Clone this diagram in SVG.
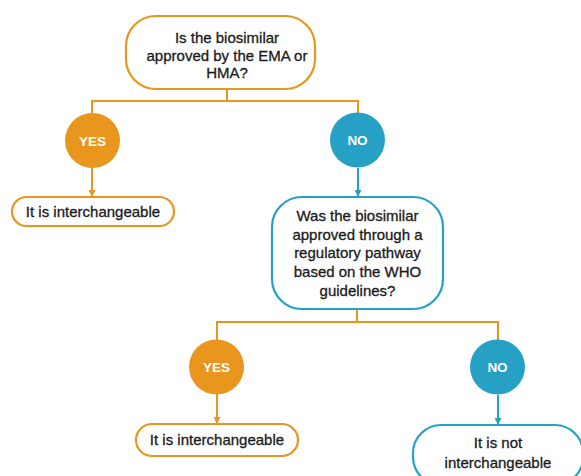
<svg xmlns="http://www.w3.org/2000/svg" width="581" height="476" viewBox="0 0 581 476">
<style>
.bg{fill:#ffffff}
.o{stroke:#E8961D;fill:none;stroke-width:2}
.b{stroke:#27A0C6;fill:none;stroke-width:2}
.box{fill:#ffffff;stroke-width:2.2}
.bo{stroke:#E8961D}
.bb{stroke:#27A0C6}
.t{font-family:"Liberation Sans",Arial,sans-serif;font-size:15px;fill:#1a1a1a;stroke:#1a1a1a;stroke-width:0.3;text-anchor:middle}
.c{font-family:"Liberation Sans",Arial,sans-serif;font-size:13.5px;font-weight:bold;fill:#ffffff;text-anchor:middle}
.co{fill:#E8961D}
.cb{fill:#27A0C6}
</style>
<defs>
<marker id="ao" markerUnits="userSpaceOnUse" markerWidth="8" markerHeight="7" refX="7" refY="3.5" orient="auto"><path d="M0,0 L7,3.5 L0,7 Z" fill="#E8961D"/></marker>
<marker id="ab" markerUnits="userSpaceOnUse" markerWidth="8" markerHeight="7" refX="7" refY="3.5" orient="auto"><path d="M0,0 L7,3.5 L0,7 Z" fill="#27A0C6"/></marker>
</defs>
<rect class="bg" x="0" y="0" width="581" height="476"/>
<g id="connectors">
<path class="o" d="M227,89 V101 M92,101 H359 M92,100 V113 M358,100 V113"/>
<path class="o" d="M92,168 V197" marker-end="url(#ao)"/>
<path class="b" d="M358,168 V197" marker-end="url(#ab)"/>
<path class="o" d="M357,309 V322 M217,322 H498 M217,321 V340 M498,321 V342"/>
<path class="o" d="M217,394 V424" marker-end="url(#ao)"/>
<path class="b" d="M498,395 V425" marker-end="url(#ab)"/>
</g>
<g id="q1">
<rect class="box bo" x="126" y="16" width="189" height="73" rx="30"/>
<text class="t" x="227" y="43">Is the biosimilar</text>
<text class="t" x="227" y="60.5">approved by the EMA or</text>
<text class="t" x="227" y="78">HMA?</text>
</g>
<g id="yes1">
<circle class="co" cx="92.5" cy="140.5" r="27.5"/>
<text class="c" x="92.5" y="145.5">YES</text>
</g>
<g id="no1">
<circle class="cb" cx="357.5" cy="140" r="27.5"/>
<text class="c" x="357.5" y="145">NO</text>
</g>
<g id="r1">
<rect class="box bo" x="12" y="197" width="162" height="29" rx="14.5"/>
<text class="t" x="93" y="217">It is interchangeable</text>
</g>
<g id="q2">
<rect class="box bb" x="272" y="197" width="171" height="112" rx="30"/>
<text class="t" x="357.5" y="221">Was the biosimilar</text>
<text class="t" x="357.5" y="239.5">approved through a</text>
<text class="t" x="357.5" y="258">regulatory pathway</text>
<text class="t" x="357.5" y="277">based on the WHO</text>
<text class="t" x="357.5" y="296">guidelines?</text>
</g>
<g id="yes2">
<circle class="co" cx="216.5" cy="367" r="27.5"/>
<text class="c" x="216.5" y="372">YES</text>
</g>
<g id="no2">
<circle class="cb" cx="497.5" cy="367" r="27.5"/>
<text class="c" x="497.5" y="372">NO</text>
</g>
<g id="r2">
<rect class="box bo" x="136" y="424" width="162" height="32" rx="16"/>
<text class="t" x="217" y="445">It is interchangeable</text>
</g>
<g id="r3">
<rect class="box bb" x="413" y="425" width="170" height="60" rx="28"/>
<text class="t" x="498" y="448">It is not</text>
<text class="t" x="498" y="468">interchangeable</text>
</g>
</svg>
